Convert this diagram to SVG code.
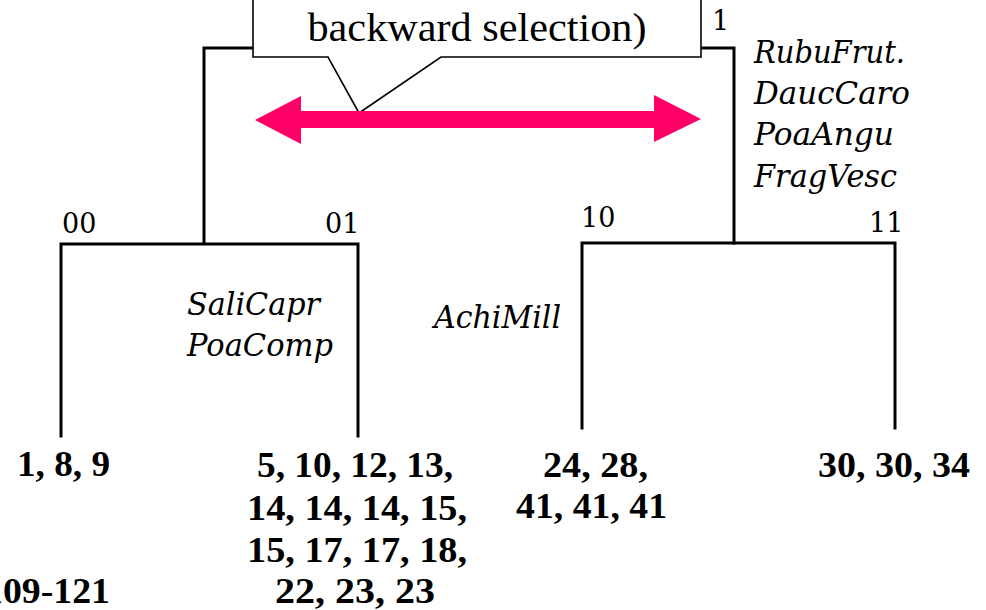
<svg xmlns="http://www.w3.org/2000/svg" width="986" height="610" viewBox="0 0 986 610">
  <style>
    .branch { fill: none; stroke: #000; stroke-width: 3; stroke-linecap: square; }
    .code { font-family: "DejaVu Serif", "Liberation Serif", serif; font-size: 27px; fill: #000; }
    .sp { font-family: "DejaVu Serif", "Liberation Serif", serif; font-style: italic; font-size: 31px; fill: #000; }
    .ids { font-family: "Liberation Serif", "Times New Roman", serif; font-weight: bold; font-size: 36px; fill: #000; }
    .note { font-family: "Liberation Serif", "Times New Roman", serif; font-size: 40px; fill: #000; }
  </style>
  <rect width="986" height="610" fill="#fff"/>

  <!-- dendrogram branches -->
  <g id="connectors">
    <path class="branch" d="M204,243 V48 H734 V243"/>
    <path class="branch" d="M61,436 V244 H358 V436"/>
    <path class="branch" d="M582,428 V243 H895 V428"/>
  </g>

  <!-- root split -->
  <g id="node-root">
    <text class="code" x="712" y="30">1</text>
    <text class="sp" x="754" y="63" textLength="151" lengthAdjust="spacingAndGlyphs">RubuFrut.</text>
    <text class="sp" x="754" y="104" textLength="156" lengthAdjust="spacingAndGlyphs">DaucCaro</text>
    <text class="sp" x="754" y="145" textLength="140" lengthAdjust="spacingAndGlyphs">PoaAngu</text>
    <text class="sp" x="754" y="187" textLength="143" lengthAdjust="spacingAndGlyphs">FragVesc</text>
  </g>

  <!-- group 00 -->
  <g id="node-00">
    <text class="code" x="62" y="233">00</text>
    <text class="ids" x="17" y="476" textLength="93" lengthAdjust="spacingAndGlyphs">1, 8, 9</text>
  </g>

  <!-- group 01 -->
  <g id="node-01">
    <text class="code" x="325" y="233">01</text>
    <text class="sp" x="187" y="315" textLength="133" lengthAdjust="spacingAndGlyphs">SaliCapr</text>
    <text class="sp" x="187" y="356" textLength="146" lengthAdjust="spacingAndGlyphs">PoaComp</text>
    <text class="ids" x="257" y="477" textLength="196" lengthAdjust="spacingAndGlyphs">5, 10, 12, 13,</text>
    <text class="ids" x="247" y="520" textLength="220" lengthAdjust="spacingAndGlyphs">14, 14, 14, 15,</text>
    <text class="ids" x="247" y="562" textLength="220" lengthAdjust="spacingAndGlyphs">15, 17, 17, 18,</text>
    <text class="ids" x="275" y="603" textLength="160" lengthAdjust="spacingAndGlyphs">22, 23, 23</text>
  </g>

  <!-- group 10 -->
  <g id="node-10">
    <text class="code" x="581" y="227">10</text>
    <text class="sp" x="434" y="328" textLength="127" lengthAdjust="spacingAndGlyphs">AchiMill</text>
    <text class="ids" x="543" y="477" textLength="105" lengthAdjust="spacingAndGlyphs">24, 28,</text>
    <text class="ids" x="516" y="518" textLength="151" lengthAdjust="spacingAndGlyphs">41, 41, 41</text>
  </g>

  <!-- group 11 -->
  <g id="node-11">
    <text class="code" x="869" y="232">11</text>
    <text class="ids" x="818" y="477" textLength="152" lengthAdjust="spacingAndGlyphs">30, 30, 34</text>
  </g>

  <!-- page reference, running off the left edge -->
  <g id="page-ref">
    <text class="ids" x="-16" y="603" textLength="126" lengthAdjust="spacingAndGlyphs">109-121</text>
  </g>

  <!-- callout with pointer -->
  <g id="callout">
    <path d="M253,-2 H701 V57 H441 L359,113 L328,57 H253 Z" fill="#fff" stroke="#000" stroke-width="1.6" stroke-linejoin="miter"/>
    <text class="note" x="477" y="41" text-anchor="middle" textLength="339" lengthAdjust="spacingAndGlyphs">backward selection)</text>
  </g>

  <!-- double-headed arrow -->
  <g id="span-arrow">
    <path d="M255,120 L301,96 V111 H654 V95 L701,119 L654,142 V128 H301 V144 Z" fill="#FF0066"/>
  </g>
</svg>
